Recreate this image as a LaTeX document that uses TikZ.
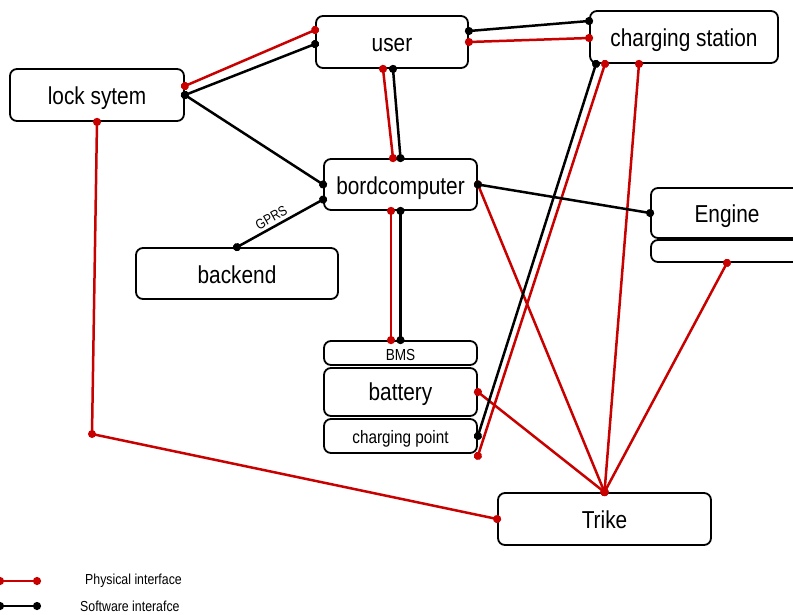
\documentclass[tikz,border=0pt]{standalone}
\usepackage{fontspec}
\setmainfont[FakeStretch=0.85]{Liberation Sans}
\usepackage{xcolor}
\usetikzlibrary{arrows.meta}
\definecolor{physred}{RGB}{200,0,0}

\begin{document}
\begin{tikzpicture}[x=1pt,y=-1pt,
    every node/.style={font=\fontsize{24.5}{28}\selectfont,inner sep=0pt},
    box/.style={draw,line width=1.8pt,rounded corners=7pt,text height=19pt,text depth=0pt},
    small/.style={text height=14pt},
    link/.style={line width=2.5pt,shorten <=-4pt,shorten >=-4pt,{Circle[length=8pt]}-{Circle[length=8pt]}},
    phys/.style={link,physred},
    soft/.style={link,black}]
    \clip (0,0) rectangle (793,614);
    \node[box,minimum width=152pt,minimum height=52pt] (user) at (392,42) {user};
    \node[box,minimum width=174pt,minimum height=52pt] (lock) at (97,95) {lock sytem};
    \node[box,minimum width=188pt,minimum height=52pt] (cs) at (684,37) {charging station};
    \node[box,minimum width=153pt,minimum height=51pt] (bord) at (400.5,184.5) {bordcomputer};
    \node[box,minimum width=202pt,minimum height=51pt] (backend) at (237,273.5) {backend};
    \node[box,minimum width=152pt,minimum height=50pt] (engine) at (727,213) {Engine};
    \node[box,minimum width=152pt,minimum height=22pt] (engbase) at (727,251) {};
    \node[box,small,font=\fontsize{16}{18}\selectfont,minimum width=153pt,minimum height=24pt] (bms) at (400.5,353) {BMS};
    \node[box,minimum width=153pt,minimum height=48pt,text height=17pt] (battery) at (400.5,392) {battery};
    \node[box,small,font=\fontsize{18}{20}\selectfont,minimum width=153pt,minimum height=34pt] (cpoint) at (400.5,436) {charging point};
    \node[box,minimum width=213pt,minimum height=52pt] (trike) at (604.5,519) {Trike};
    \coordinate (lockbend) at (92,434);
    \draw[phys] ([yshift=9pt]lock.east) -- ([yshift=12pt]user.west);
    \draw[phys] ([xshift=-9pt]user.south) -- ([xshift=-7.5pt]bord.north);
    \draw[phys] (user.east) -- ([yshift=-1pt]cs.west);
    \draw[phys] ([xshift=-9.5pt]bord.south) -- ([xshift=-9.5pt]bms.north);
    \draw[phys] (bord.east) -- (trike.north);
    \draw[phys] (battery.east) -- (trike.north);
    \draw[phys] ([xshift=-79pt]cs.south) -- ([yshift=-2pt]cpoint.south east);
    \draw[phys] ([xshift=-45pt]cs.south) -- (trike.north);
    \draw[phys] (engbase.south) -- (trike.north);
    \draw[phys] (lock.south) -- (lockbend) -- (trike.west);
    \fill[physred] (lockbend) circle (4pt);
    \draw[soft] (lock.east) -- ([yshift=-2pt]user.west);
    \draw[soft] (lock.east) -- (bord.west);
    \draw[soft] ([xshift=1pt]user.south) -- (bord.north);
    \draw[soft] ([yshift=11pt]user.east) -- ([yshift=16pt]cs.west);
    \draw[soft] (bord.south) -- (bms.north);
    \draw[soft] (backend.north) -- node[sloped,above=3pt,pos=0.45,font=\fontsize{14}{16}\selectfont] {GPRS} ([yshift=-15pt]bord.west);
    \draw[soft] (bord.east) -- (engine.west);
    \draw[soft] ([xshift=-88pt]cs.south) -- (cpoint.east);
    \coordinate (physA) at (0,581);
    \coordinate (physB) at (37,581);
    \coordinate (softA) at (0,606);
    \coordinate (softB) at (37,606);
    \draw[phys] (physA) -- (physB);
    \draw[soft] (softA) -- (softB);
    \node[anchor=west,font=\fontsize{14.5}{16}\selectfont] (physlabel) at (85,581) {Physical interface};
    \node[anchor=west,font=\fontsize{14.5}{16}\selectfont] (softlabel) at (80,606) {Software interafce};
\end{tikzpicture}
\end{document}
